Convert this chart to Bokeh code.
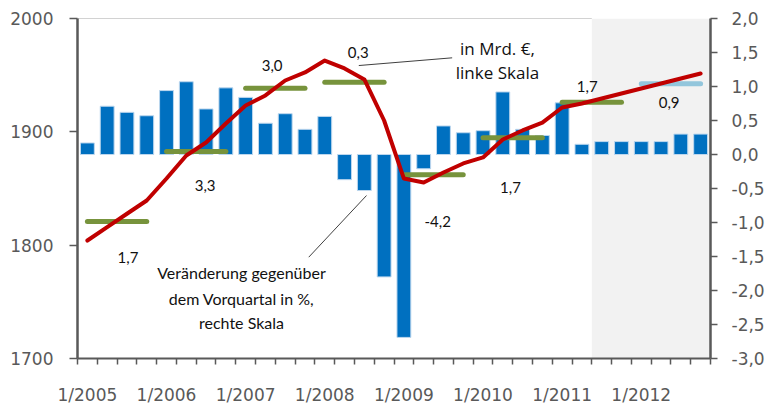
import numpy as np
from bokeh.plotting import figure
from bokeh.models import (Range1d, LinearAxis, FixedTicker, CustomJSTickFormatter,
                          BoxAnnotation)
from bokeh.core.properties import value
from bokeh.embed import file_html
from bokeh.resources import INLINE

# ---------------- data ----------------
years = [2005, 2006, 2007, 2008, 2009, 2010, 2011, 2012]
x_labels = ["1/2005", "1/2006", "1/2007", "1/2008", "1/2009", "1/2010", "1/2011", "1/2012"]

# quarter-on-quarter change in % (right scale), 2005Q1 .. 2012Q4
qoq_change = [0.17, 0.71, 0.62, 0.57,
              0.94, 1.07, 0.67, 0.98,
              0.84, 0.46, 0.60, 0.37,
              0.56, -0.37, -0.53, -1.80,
              -2.69, -0.21, 0.42, 0.32,
              0.35, 0.92, 0.37, 0.28,
              0.76, 0.15, 0.19, 0.19,
              0.19, 0.19, 0.30, 0.30]

# GDP level in bn EUR (left scale)
gdp_level = [1804.1, 1815.9, 1827.7, 1839.4,
             1858.8, 1879.1, 1890.6, 1907.4,
             1923.2, 1932.1, 1945.3, 1952.4,
             1962.9, 1955.9, 1946.2, 1910.0,
             1858.8, 1855.3, 1864.1, 1872.1,
             1877.4, 1893.2, 1901.2, 1908.2,
             1921.5, 1925.0, 1929.4, 1933.8,
             1938.2, 1942.6, 1947.1, 1951.5]

# annual average level (left scale) and annual growth labels
annual_level = [1820.9, 1882.6, 1938.5, 1943.8, 1862.1, 1894.7, 1926.2, 1942.4]
annual_growth = ["1,7", "3,3", "3,0", "0,3", "-4,2", "1,7", "1,7", "0,9"]
annual_is_forecast = [False, False, False, False, False, False, False, True]

forecast_start_quarter = 26  # shaded area starts here (quarter index)

# ---------------- styles / positions ----------------
BLUE = "#0070c0"
RED = "#c00000"
GREEN = "#77933c"
LIGHTBLUE = "#93c6dc"
GREY = "#595959"

n_q = len(qoq_change)
xq = np.arange(n_q) + 0.5

# label positions (x in quarters, y on left scale, baseline)
growth_label_x = [2.55, 6.45, 9.84, 14.19, 18.21, 21.89, 25.77, 29.91]
growth_label_y = [1789.1, 1852.6, 1958.5, 1969.7, 1821.2, 1850.6, 1940.0, 1926.2]

p = figure(width=767, height=408,
           x_range=Range1d(0, n_q), y_range=Range1d(1700, 2000),
           output_backend="svg", toolbar_location=None,
           min_border_left=77, min_border_right=57,
           min_border_top=18, min_border_bottom=50)
p.xgrid.visible = False
p.ygrid.visible = False
p.outline_line_color = None
p.background_fill_color = "white"
p.border_fill_color = "white"

p.extra_y_ranges = {"pct": Range1d(-3, 2)}

# forecast shading
p.add_layout(BoxAnnotation(left=forecast_start_quarter, right=n_q,
                           fill_color="#f2f2f2", fill_alpha=1.0,
                           line_color=None, level="underlay"))

# top frame line (up to shaded area)
p.segment(x0=[0], y0=[2000], x1=[forecast_start_quarter], y1=[2000],
          line_color="#a6a6a6", line_width=1)

# bars
p.vbar(x=xq, top=qoq_change, bottom=0, width=0.7, y_range_name="pct",
       fill_color=BLUE, line_color="#bdd7ee", line_width=1)

# annual averages
seg_x0 = [4 * k + 0.5 for k in range(len(years))]
seg_x1 = [4 * k + 3.5 for k in range(len(years))]
seg_col = [LIGHTBLUE if f else GREEN for f in annual_is_forecast]
p.segment(x0=seg_x0, y0=annual_level, x1=seg_x1, y1=annual_level,
          line_color=seg_col, line_width=5, line_cap="round")

# GDP level line
p.line(xq, gdp_level, line_color=RED, line_width=4, line_join="round", line_cap="round")

# growth labels
p.text(x=growth_label_x, y=growth_label_y, text=annual_growth,
       text_font=value("Lato"), text_font_size="15px", text_color="#111111",
       text_align="center", text_baseline="alphabetic")

# annotations
p.text(x=[21.23, 21.23], y=[1973.8, 1952.6], text=["in Mrd. €,", "linke Skala"],
       text_font=value("Open Sans"), text_font_size="17px", text_color="#111111",
       text_align="center", text_baseline="alphabetic")
p.segment(x0=[14.22], y0=[1958.5], x1=[18.94], y1=[1965.3],
          line_color="#404040", line_width=1)

p.text(x=[8.29, 8.29, 8.29], y=[1775.9, 1752.9, 1731.8],
       text=["Veränderung gegenüber", "dem Vorquartal in %,", "rechte Skala"],
       text_font=value("Lato"), text_font_size="16px", text_color="#111111",
       text_align="center", text_baseline="alphabetic")
p.segment(x0=[11.69], y0=[1789.4], x1=[14.61], y1=[1843.8],
          line_color="#404040", line_width=1)

# ---------------- axes ----------------
xa = p.xaxis[0]
xa.ticker = FixedTicker(ticks=[4 * k + 0.5 for k in range(len(years))],
                        minor_ticks=list(range(n_q + 1)))
xa.formatter = CustomJSTickFormatter(args={"labels": x_labels},
                                     code="return labels[Math.round((tick - 0.5) / 4)];")
xa.major_tick_line_color = None
xa.major_tick_out = 6
xa.major_tick_in = 0
xa.minor_tick_line_color = GREY
xa.minor_tick_line_width = 1.5
xa.minor_tick_out = 6
xa.minor_tick_in = 0
xa.axis_line_color = GREY
xa.axis_line_width = 2
xa.major_label_standoff = 20
xa.major_label_text_font = "DejaVu Sans"
xa.major_label_text_font_size = "17px"
xa.major_label_text_color = GREY

ya = p.yaxis[0]
ya.ticker = FixedTicker(ticks=[1700, 1800, 1900, 2000])
ya.major_tick_out = 8
ya.major_tick_in = 0
ya.major_tick_line_color = GREY
ya.major_tick_line_width = 1.5
ya.minor_tick_line_color = None
ya.axis_line_color = GREY
ya.axis_line_width = 2.5
ya.major_label_standoff = 16
ya.major_label_text_font = "DejaVu Sans"
ya.major_label_text_font_size = "17px"
ya.major_label_text_color = GREY

ra = LinearAxis(y_range_name="pct",
                ticker=FixedTicker(ticks=[-3, -2.5, -2, -1.5, -1, -0.5, 0, 0.5, 1, 1.5, 2]),
                formatter=CustomJSTickFormatter(code="return tick.toFixed(1).replace('.', ',');"))
ra.major_tick_out = 7
ra.major_tick_in = 0
ra.major_tick_line_color = GREY
ra.major_tick_line_width = 1.5
ra.minor_tick_line_color = None
ra.axis_line_color = GREY
ra.axis_line_width = 2.5
ra.major_label_standoff = 14
ra.major_label_text_font = "DejaVu Sans"
ra.major_label_text_font_size = "17px"
ra.major_label_text_color = GREY
p.add_layout(ra, "right")

open("out.html", "w").write(file_html(p, INLINE))
